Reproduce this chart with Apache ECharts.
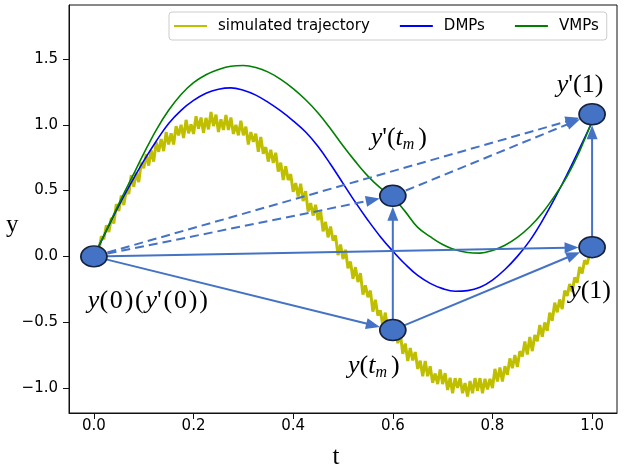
<!DOCTYPE html>
<html>
<head>
<meta charset="utf-8">
<script src="https://cdn.jsdelivr.net/npm/echarts@6/dist/echarts.min.js"></script>
<style>html,body{margin:0;padding:0;background:#fff}#c{width:624px;height:469px}</style>
</head>
<body>
<div id="c"></div>
<script>
// ---------- data ----------
const xTicks = [0.0, 0.2, 0.4, 0.6, 0.8, 1.0];
const yTicks = [-1.0, -0.5, 0.0, 0.5, 1.0, 1.5];

// simulated (noisy) trajectory, t = 0 .. 1 step 0.005
const simT = [];
for (let i = 0; i <= 200; i++) simT.push(+(i * 0.005).toFixed(3));
const simY = [
 0.000, 0.067, 0.045, 0.152, 0.130, 0.237, 0.185, 0.292, 0.250, 0.397,
 0.345, 0.462, 0.390, 0.502, 0.475, 0.617, 0.530, 0.637, 0.565, 0.712,
 0.670, 0.775, 0.690, 0.805, 0.720, 0.867, 0.795, 0.892, 0.800, 0.945,
 0.850, 0.935, 0.850, 0.990, 0.920, 1.000, 0.900, 1.037, 0.935, 1.002,
 0.930, 1.065, 0.970, 1.055, 0.940, 1.052, 0.965, 1.097, 0.990, 1.077,
 0.945, 1.042, 0.960, 1.075, 0.960, 1.055, 0.930, 1.000, 0.920, 1.030,
 0.920, 0.985, 0.850, 0.945, 0.870, 0.932, 0.795, 0.907, 0.780, 0.830,
 0.720, 0.810, 0.710, 0.787, 0.645, 0.712, 0.580, 0.685, 0.580, 0.625,
 0.490, 0.557, 0.455, 0.552, 0.420, 0.495, 0.340, 0.405, 0.310, 0.392,
 0.275, 0.347, 0.190, 0.262, 0.145, 0.227, 0.120, 0.160, 0.010, 0.090,
 -0.020, 0.050, -0.090, -0.040, -0.170, -0.082, -0.195, -0.127, -0.290, -0.220,
 -0.310, -0.260, -0.420, -0.330, -0.450, -0.410, -0.530, -0.427, -0.575, -0.532,
 -0.630, -0.545, -0.660, -0.585, -0.740, -0.662, -0.795, -0.697, -0.790, -0.727,
 -0.855, -0.792, -0.910, -0.795, -0.910, -0.835, -0.960, -0.890, -0.970, -0.860,
 -0.970, -0.887, -1.015, -0.922, -1.040, -0.925, -1.000, -0.925, -1.040, -0.962,
 -1.065, -0.947, -1.040, -0.925, -1.020, -0.925, -1.040, -0.930, -1.010, -0.930,
 -1.000, -0.855, -0.950, -0.845, -0.950, -0.835, -0.900, -0.775, -0.850, -0.750,
 -0.840, -0.720, -0.760, -0.647, -0.745, -0.612, -0.720, -0.597, -0.645, -0.522,
 -0.610, -0.502, -0.565, -0.427, -0.490, -0.352, -0.425, -0.327, -0.400, -0.260,
 -0.300, -0.210, -0.270, -0.160, -0.200, -0.080, -0.130, -0.030, -0.060, 0.020,
 0.020
];

// DMPs and VMPs curves, t step 0.025
const curveT = [0, 0.025, 0.05, 0.075, 0.1, 0.125, 0.15, 0.175, 0.2, 0.225,
  0.25, 0.275, 0.3, 0.325, 0.35, 0.375, 0.4, 0.425, 0.45, 0.475,
  0.5, 0.525, 0.55, 0.575, 0.6, 0.625, 0.65, 0.675, 0.7, 0.725,
  0.75, 0.775, 0.8, 0.825, 0.85, 0.875, 0.9, 0.925, 0.95, 0.975, 1.0];
const dmpY = [0, 0.195, 0.385, 0.56, 0.725, 0.875, 1.01, 1.11, 1.185, 1.24,
  1.27, 1.28, 1.262, 1.225, 1.17, 1.105, 1.03, 0.945, 0.835, 0.70,
  0.555, 0.41, 0.275, 0.15, 0.04, -0.06, -0.145, -0.205, -0.245, -0.265,
  -0.26, -0.235, -0.18, -0.10, 0.00, 0.12, 0.27, 0.44, 0.625, 0.82, 1.02];
const vmpY = [0, 0.20, 0.40, 0.59, 0.78, 0.96, 1.11, 1.23, 1.32, 1.38,
  1.42, 1.445, 1.45, 1.435, 1.40, 1.345, 1.275, 1.19, 1.09, 0.97,
  0.84, 0.72, 0.61, 0.52, 0.45, 0.34, 0.22, 0.15, 0.09, 0.05,
  0.03, 0.025, 0.045, 0.085, 0.145, 0.225, 0.33, 0.46, 0.61, 0.80, 1.03];

// key points (via points) and their labels
const keyPoints = [[0.0, 0.0], [0.6, -0.56], [0.6, 0.46], [1.0, 0.07], [1.0, 1.08]];
const keyLabels = [
  "{i|y}{a|(}{a|0}{a|)}{a|(}{i|y}{a|'}{a|(}{a|0}{a|)}{r|)}",
  "{i|y}{r|(}{i|t}{s|m}{r|)}",
  "{i|y}{r|'(}{i|t}{s|m}{r|)}",
  "{i|y}{r|(1)}",
  "{i|y}{r|'(1)}"
];
// arrows: [from index, to index, dashed(1)/solid(0)]
const arrows = [[0, 1, 0], [0, 3, 0], [0, 2, 1], [0, 4, 1], [1, 2, 0], [1, 3, 0], [2, 4, 1], [3, 4, 0]];

const seriesNames = ['simulated trajectory', 'DMPs', 'VMPs'];
const axisTitles = ['t', 'y'];

// ---------- layout / style ----------
const labelOffsets = [[54, 45], [-19, 36], [6, -58], [-2, 44], [-12, -29]];
const ARROW = '#4472C4';
const serif = 'Liberation Serif, Times New Roman, serif';
const sans = 'DejaVu Sans, sans-serif';
const tickFmt = v => (Math.abs(v) < 1e-9 ? 0 : v).toFixed(1).replace('-', '\u2212');

function renderArrow(params, api) {
  const p1 = api.coord([api.value(0), api.value(1)]);
  const p2 = api.coord([api.value(2), api.value(3)]);
  const dashed = api.value(4) === 1;
  const dx = p2[0] - p1[0], dy = p2[1] - p1[1];
  const len = Math.hypot(dx, dy);
  const ux = dx / len, uy = dy / len;
  const rx = 13.5, ry = 11;
  const r = 1 / Math.sqrt((ux / rx) ** 2 + (uy / ry) ** 2);
  const tip = [p2[0] - ux * r, p2[1] - uy * r];
  const headLen = 14, headW = 5.5;
  const base = [tip[0] - ux * headLen, tip[1] - uy * headLen];
  const nx = -uy, ny = ux;
  return {
    type: 'group',
    children: [
      { type: 'line', shape: { x1: p1[0], y1: p1[1], x2: base[0] + ux * 2, y2: base[1] + uy * 2 },
        style: { stroke: ARROW, lineWidth: 2, lineDash: dashed ? [9, 5] : null, fill: null } },
      { type: 'polygon', shape: { points: [tip, [base[0] + nx * headW, base[1] + ny * headW], [base[0] - nx * headW, base[1] - ny * headW]] },
        style: { fill: ARROW } }
    ]
  };
}

const chart = echarts.init(document.getElementById('c'), null, { renderer: 'canvas' });
chart.setOption({
  animation: false,
  backgroundColor: '#fff',
  grid: { left: 69, right: 7, top: 5, bottom: 56, show: true, borderColor: '#111', borderWidth: 1,
          backgroundColor: 'transparent', outerBoundsMode: 'none', containLabel: false },
  legend: {
    data: seriesNames,
    left: 169, top: 12,
    icon: 'rect',
    itemWidth: 33, itemHeight: 2, itemGap: 30,
    padding: [5, 8, 5, 5],
    borderColor: '#cccccc', borderWidth: 1, borderRadius: 3,
    backgroundColor: 'rgba(255,255,255,0.85)',
    textStyle: { fontFamily: sans, fontSize: 15, color: '#000', padding: [0, 0, 0, 6], lineHeight: 18 }
  },
  graphic: [
    { type: 'text', left: 6, top: 213, style: { text: axisTitles[1], font: '25px ' + serif, fill: '#000' } }
  ],
  xAxis: {
    type: 'value', min: -0.05, max: 1.05,
    name: axisTitles[0], nameLocation: 'middle', nameGap: 32,
    nameTextStyle: { fontFamily: serif, fontSize: 25, color: '#000', padding: [0, 14, 0, 0] },
    splitLine: { show: false },
    axisLine: { show: true, onZero: false, lineStyle: { color: '#111', width: 1 } },
    axisTick: { show: true, length: 6, customValues: xTicks, lineStyle: { color: '#111' } },
    axisLabel: { customValues: xTicks, formatter: tickFmt, fontFamily: sans, fontSize: 15, color: '#000', margin: 6 }
  },
  yAxis: {
    type: 'value', min: -1.19, max: 1.91,
    splitLine: { show: false },
    axisLine: { show: true, onZero: false, lineStyle: { color: '#111', width: 1 } },
    axisTick: { show: true, length: 6, customValues: yTicks, lineStyle: { color: '#111' } },
    axisLabel: { customValues: yTicks, formatter: tickFmt, fontFamily: sans, fontSize: 15, color: '#000', margin: 11 }
  },
  series: [
    {
      name: seriesNames[0], type: 'line', symbol: 'none', z: 2,
      data: simT.map((t, i) => [t, simY[i]]),
      lineStyle: { color: '#bfbf00', width: 3 }, itemStyle: { color: '#bfbf00' }
    },
    {
      name: seriesNames[1], type: 'line', symbol: 'none', smooth: 0.4, z: 3,
      data: curveT.map((t, i) => [t, dmpY[i]]),
      lineStyle: { color: '#0000ff', width: 1.6 }, itemStyle: { color: '#0000ff' }
    },
    {
      name: seriesNames[2], type: 'line', symbol: 'none', smooth: 0.4, z: 3,
      data: curveT.map((t, i) => [t, vmpY[i]]),
      lineStyle: { color: '#008000', width: 1.6 }, itemStyle: { color: '#008000' }
    },
    {
      type: 'custom', name: 'arrows', z: 4, clip: false,
      renderItem: renderArrow,
      encode: { x: [0, 2], y: [1, 3] },
      data: arrows.map(a => [keyPoints[a[0]][0], keyPoints[a[0]][1], keyPoints[a[1]][0], keyPoints[a[1]][1], a[2]])
    },
    {
      type: 'scatter', name: 'points', z: 5,
      symbol: 'circle', symbolSize: [26, 21],
      itemStyle: { color: ARROW, borderColor: '#15213d', borderWidth: 1.6, opacity: 1 },
      data: keyPoints.map((p, i) => ({
        value: p,
        label: {
          show: true, position: 'inside', offset: labelOffsets[i],
          formatter: keyLabels[i],
          rich: {
            i: { fontFamily: serif, fontStyle: 'italic', fontSize: 26, color: '#000' },
            r: { fontFamily: serif, fontSize: 26, color: '#000' },
            a: { fontFamily: serif, fontSize: 26, color: '#000', padding: [0, 1.8, 0, 0] },
            s: { fontFamily: serif, fontStyle: 'italic', fontSize: 16, color: '#000', padding: [14, 4, 0, 0] }
          }
        }
      }))
    }
  ]
});
</script>
</body>
</html>
